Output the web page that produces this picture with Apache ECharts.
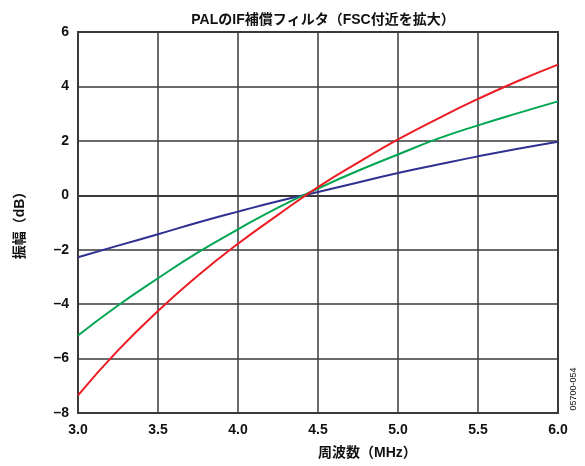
<!DOCTYPE html>
<html>
<head>
<meta charset="utf-8">
<script src="https://cdn.jsdelivr.net/npm/echarts@6/dist/echarts.min.js"></script>
<style>
  html, body { margin: 0; padding: 0; background: #fff; }
  #chart { width: 585px; height: 466px; }
</style>
</head>
<body>
<div id="chart"></div>
<script>
// Frequency points (MHz)
const freqMHz = [3.0, 3.25, 3.5, 3.75, 4.0, 4.25, 4.5, 4.75, 5.0, 5.25, 5.5, 5.75, 6.0];
// Amplitude responses (dB)
const ampRed   = [-7.35, -5.7, -4.25, -2.95, -1.78, -0.72, 0.3, 1.2, 2.05, 2.82, 3.54, 4.2, 4.8];
const ampGreen = [-5.15, -4.05, -3.05, -2.1, -1.25, -0.45, 0.25, 0.9, 1.5, 2.08, 2.57, 3.02, 3.45];
const ampBlue  = [-2.28, -1.85, -1.43, -1.0, -0.6, -0.22, 0.12, 0.47, 0.82, 1.13, 1.43, 1.71, 1.97];

const titleText = 'PALのIF補償フィルタ（FSC付近を拡大）';
const xName = '周波数（MHz）';
const yName = '振幅（dB）';
const figId = '05700-054';

const FONT = '"Liberation Sans", "Noto Sans CJK JP", sans-serif';
const GRID_COLOR = '#3a3a3a';

function pairs(ys) { return freqMHz.map((x, i) => [x, ys[i]]); }

const chart = echarts.init(document.getElementById('chart'));
chart.setOption({
  animation: false,
  backgroundColor: '#fff',
  title: {
    text: titleText,
    left: 318, top: 8, textAlign: 'center',
    textStyle: { fontFamily: FONT, fontSize: 14, fontWeight: 'bold', color: '#111' }
  },
  grid: {
    left: 78, right: 27, top: 32, bottom: 53,
    show: true, borderColor: GRID_COLOR, borderWidth: 2, backgroundColor: 'transparent'
  },
  xAxis: {
    type: 'value', min: 3, max: 6, interval: 0.5,
    axisLine: { show: true, lineStyle: { color: GRID_COLOR, width: 2 } },
    axisTick: { show: false },
    splitLine: { show: true, lineStyle: { color: GRID_COLOR, width: 1.5 } },
    axisLabel: {
      margin: 10, fontFamily: FONT, fontSize: 14, fontWeight: 'bold', color: '#111',
      formatter: v => v.toFixed(1)
    }
  },
  yAxis: {
    type: 'value', min: -8, max: 6, interval: 2,
    axisLine: { show: true, lineStyle: { color: GRID_COLOR, width: 2 } },
    axisTick: { show: false },
    splitLine: { show: true, lineStyle: { color: GRID_COLOR, width: 1.5 } },
    axisLabel: {
      margin: 9, fontFamily: FONT, fontSize: 14, fontWeight: 'bold', color: '#111',
      formatter: v => String(v).replace('-', '–')
    }
  },
  graphic: [
    {
      type: 'text', left: 318, top: 446,
      style: { text: xName, font: 'bold 14px ' + FONT, fill: '#111', textAlign: 'center' }
    },
    {
      type: 'text', x: 20, y: 222, rotation: Math.PI / 2,
      style: { text: yName, font: 'bold 14px ' + FONT, fill: '#111', textAlign: 'center', textVerticalAlign: 'middle' }
    },
    {
      type: 'text', x: 574, y: 389, rotation: Math.PI / 2,
      style: { text: figId, font: '9px ' + FONT, fill: '#111', textAlign: 'center', textVerticalAlign: 'middle' }
    }
  ],
  series: [
    { type: 'line', data: pairs(ampBlue), smooth: true, showSymbol: false,
      lineStyle: { color: '#2e3192', width: 2 } },
    { type: 'line', data: pairs(ampGreen), smooth: true, showSymbol: false,
      lineStyle: { color: '#00a651', width: 2 } },
    { type: 'line', data: pairs(ampRed), smooth: true, showSymbol: false,
      lineStyle: { color: '#ed1c24', width: 2 } }
  ]
});
</script>
</body>
</html>
